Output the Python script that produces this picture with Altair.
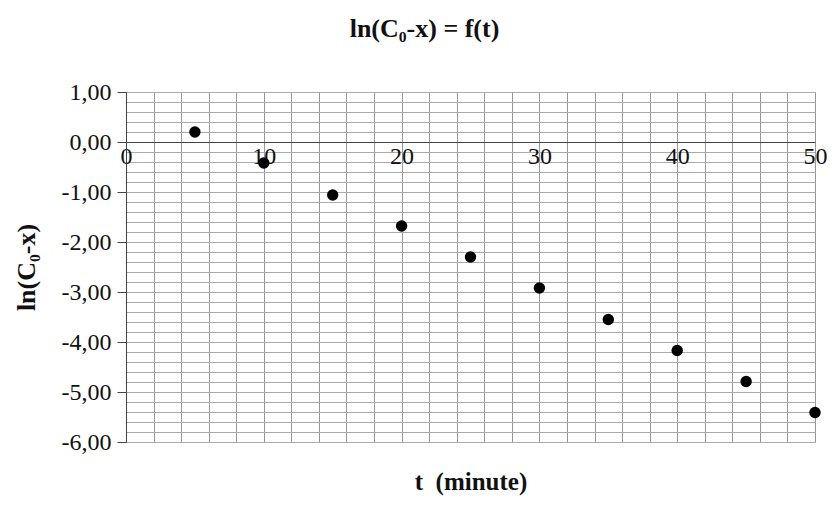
import altair as alt
import pandas as pd

# data
t_values = [5, 10, 15, 20, 25, 30, 35, 40, 45, 50]
ln_values = [0.20, -0.42, -1.06, -1.68, -2.30, -2.92, -3.55, -4.17, -4.79, -5.41]

# axis tick values
x_label_ticks = [0, 10, 20, 30, 40, 50]
x_grid_ticks = [0, 2, 4, 6, 8, 10, 12, 14, 16, 18, 20, 22, 24, 26, 28, 30, 32, 34,
                36, 38, 40, 42, 44, 46, 48, 50]
y_label_ticks = [1, 0, -1, -2, -3, -4, -5, -6]
y_grid_ticks = [round(-6 + 0.2 * i, 1) for i in range(36)]

df = pd.DataFrame({"t": t_values, "v": ln_values})

SERIF = "Times New Roman, Liberation Serif, DejaVu Serif, serif"
xs = alt.Scale(domain=[0, 50], nice=False, zero=False)
ys = alt.Scale(domain=[-6, 1], nice=False, zero=False)

grid = alt.Chart(df).mark_point(opacity=0).encode(
    x=alt.X("t:Q", scale=xs, axis=alt.Axis(
        orient="bottom", values=x_grid_ticks, grid=True, gridColor="#969696",
        gridWidth=1, labels=False, ticks=False, domain=False, title=None)),
    y=alt.Y("v:Q", scale=ys, axis=alt.Axis(
        orient="left", values=y_grid_ticks, grid=True, gridColor="#ababab",
        gridWidth=1, labels=False, ticks=False, domain=False, title=None)),
)

points = alt.Chart(df).mark_point(filled=True, color="black", size=130, opacity=1).encode(
    x=alt.X("t:Q", scale=xs, axis=alt.Axis(
        orient="bottom", offset=-300, values=x_label_ticks, grid=False,
        ticks=False, domain=True, domainColor="#444444", domainWidth=1,
        labelFont=SERIF, labelFontSize=24, labelColor="#111111",
        labelPadding=2, labelFlush=False, labelOverlap=False,
        title="t\u00a0 (minute)", titleFont=SERIF, titleFontSize=25,
        titleFontWeight="bold", titleColor="#111111", titlePadding=301)),
    y=alt.Y("v:Q", scale=ys, axis=alt.Axis(
        orient="left", values=y_label_ticks, grid=False,
        ticks=True, tickSize=9, tickColor="#444444", domain=True,
        domainColor="#444444", domainWidth=1,
        labelExpr="(datum.value < 0 ? '-' : '') + replace(format(abs(datum.value), '.2f'), '.', ',')",
        labelFont=SERIF, labelFontSize=24, labelColor="#111111",
        labelPadding=6, labelOverlap=False,
        title="ln(C\u2080-x)", titleFont=SERIF, titleFontSize=26,
        titleFontWeight="bold", titleColor="#111111", titlePadding=22)),
)

chart = alt.layer(grid, points).resolve_axis(
    x="independent", y="independent"
).properties(
    width=689,
    height=350,
    autosize=alt.AutoSizeParams(type="none"),
    padding={"left": 118, "top": 84, "right": 12, "bottom": 56},
    title=alt.TitleParams(
        text="ln(C\u2080-x) = f(t)", font=SERIF, fontSize=26, fontWeight="bold",
        color="#111111", anchor="middle", dx=-46, offset=38),
).configure_view(
    stroke="#9a9a9a", strokeWidth=1.5
).configure(background="white")

chart.save("out.html", embed_options={"renderer": "svg", "actions": False})
